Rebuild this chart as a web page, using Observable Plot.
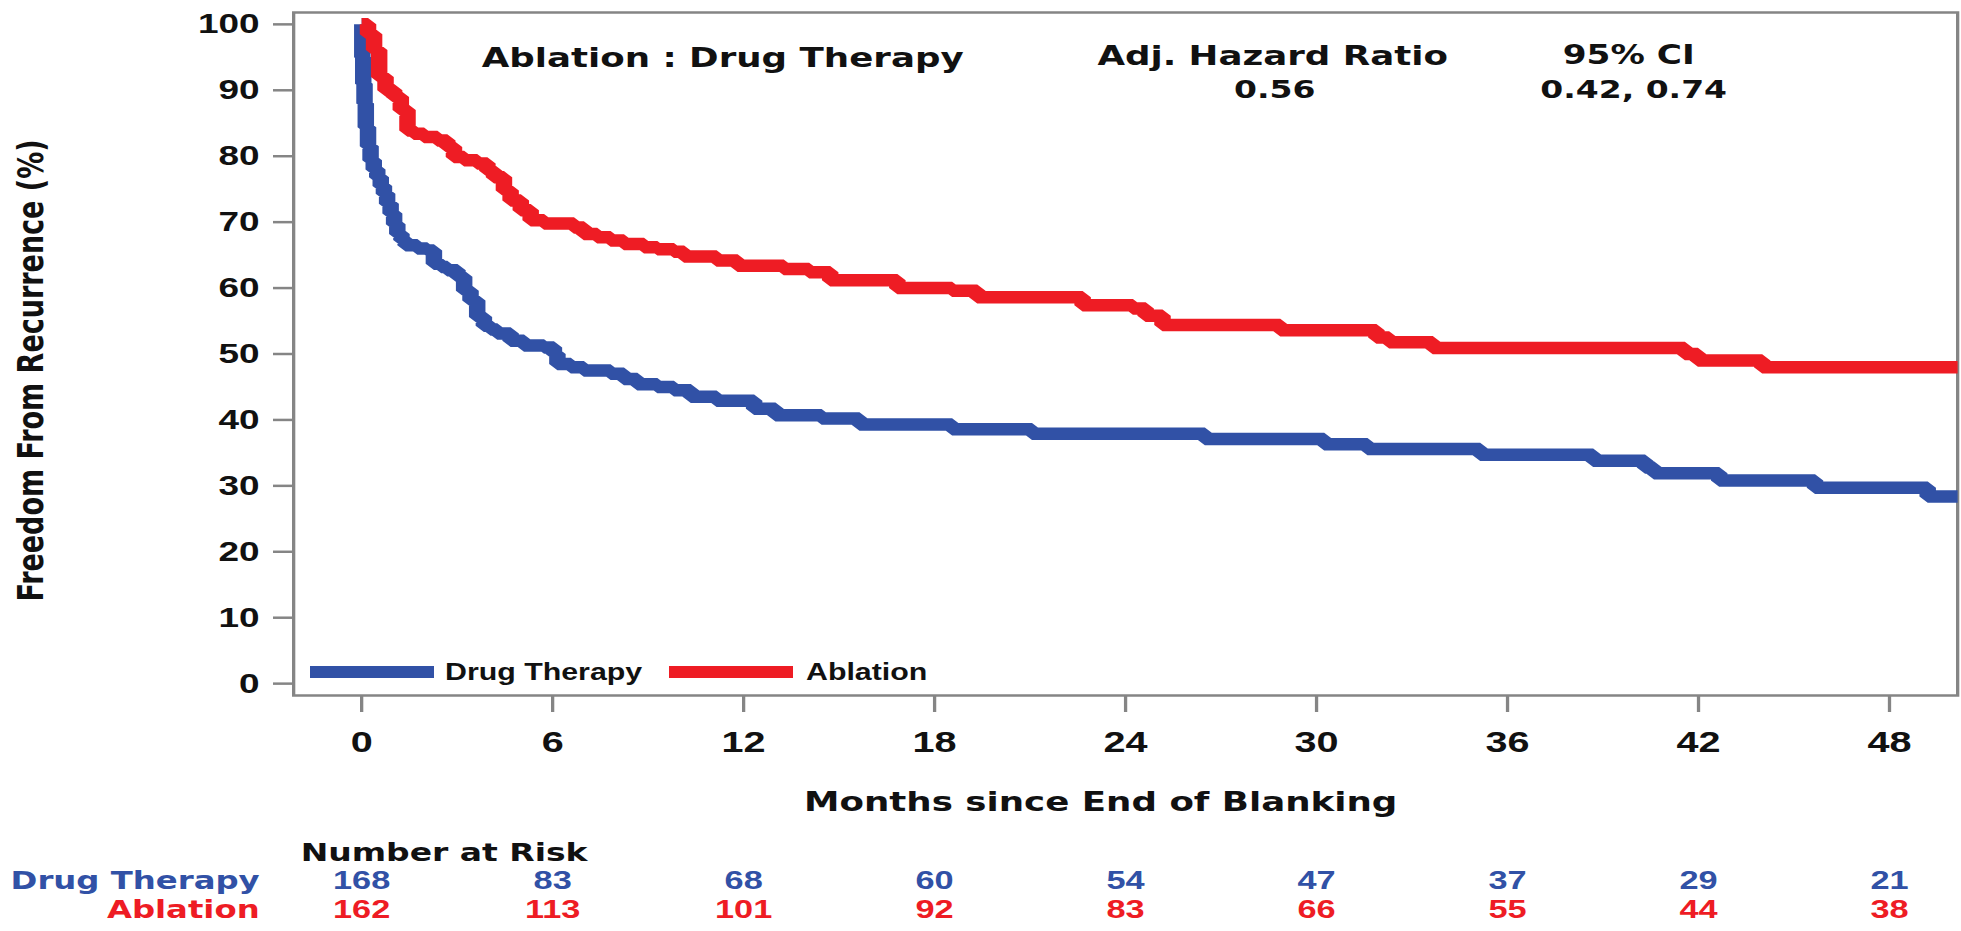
<!DOCTYPE html>
<html>
<head>
<meta charset="utf-8">
<script src="https://cdn.jsdelivr.net/npm/d3@7"></script>
<script src="https://cdn.jsdelivr.net/npm/@observablehq/plot@0.6"></script>
<style>
html, body { margin: 0; padding: 0; background: #fff; overflow: hidden; }
#chart svg { transform-origin: 0 0; display: block; }
</style>
</head>
<body>
<div id="chart"></div>
<script>
// ---------- data ----------
const groups = ["Drug Therapy", "Ablation"];
const groupColors = ["#3151a6", "#ee1c24"];

const drugMonths = [0, 0.02, 0.05, 0.09, 0.13, 0.2, 0.28, 0.38, 0.49, 0.6, 0.70, 0.8, 0.91, 1.02, 1.12, 1.25, 1.38, 1.75, 2.06, 2.27, 2.5, 2.69, 3.01, 3.22, 3.42, 3.63, 3.84, 4.05, 4.26, 4.68, 5.10, 5.73, 6.04, 6.15, 6.57, 6.98, 7.82, 8.24, 8.66, 9.29, 9.81, 10.34, 11.15, 12.33, 13.0, 14.45, 15.64, 18.55, 21.06, 26.49, 30.24, 31.6, 35.14, 38.69, 40.32, 40.6, 42.65, 45.66, 49.2, 50.14];
const drugSurv = [100, 95, 91, 88, 84.4, 81.5, 79.4, 78, 76.8, 75.5, 74.3, 72.8, 71.3, 69.7, 68.2, 67.3, 66.5, 66.0, 65.7, 63.7, 63.2, 62.7, 61.7, 59.6, 58.1, 55.6, 54.3, 53.7, 53.1, 52.0, 51.3, 51.0, 50.0, 48.5, 48.0, 47.5, 47.0, 46.2, 45.4, 45.0, 44.5, 43.5, 42.9, 41.7, 40.7, 40.2, 39.3, 38.6, 37.9, 37.1, 36.3, 35.6, 34.7, 33.8, 32.8, 31.9, 30.8, 29.7, 28.4, 28.4];

const ablMonths = [0, 0.2, 0.39, 0.55, 0.75, 1.02, 1.23, 1.44, 1.64, 1.96, 2.38, 2.69, 2.90, 3.22, 3.63, 3.95, 4.16, 4.47, 4.68, 5.0, 5.31, 5.73, 6.67, 6.98, 7.40, 7.82, 8.24, 8.87, 9.29, 9.81, 10.13, 11.15, 11.81, 13.26, 14.06, 14.72, 16.83, 18.55, 19.34, 22.65, 24.23, 24.63, 25.16, 28.86, 31.88, 32.28, 33.65, 41.57, 41.98, 44.0, 50.14];
const ablSurv = [100, 98.5, 96.1, 92.0, 90.0, 89.0, 87.0, 83.9, 83.4, 82.9, 82.4, 81.4, 79.9, 79.4, 78.9, 77.8, 76.8, 74.8, 73.3, 71.8, 70.3, 69.8, 69.2, 68.2, 67.7, 67.2, 66.7, 66.2, 65.9, 65.5, 64.8, 64.2, 63.4, 62.9, 62.4, 61.2, 60.0, 59.6, 58.6, 57.4, 56.9, 55.8, 54.4, 53.6, 52.5, 51.8, 50.9, 50.0, 49.0, 48.0, 48.0];

const xTicks = [0, 6, 12, 18, 24, 30, 36, 42, 48];
const yTicks = [0, 10, 20, 30, 40, 50, 60, 70, 80, 90, 100];
const riskMonths = [0, 6, 12, 18, 24, 30, 36, 42, 48];
const riskDrug = [168, 83, 68, 60, 54, 47, 37, 29, 21];
const riskAbl = [162, 113, 101, 92, 83, 66, 55, 44, 38];

const xLabel = "Months since End of Blanking";
const yLabel = "Freedom From Recurrence (%)";
const riskTitle = "Number at Risk";
const annComparison = "Ablation : Drug Therapy";
const annHRLabel = "Adj. Hazard Ratio";
const annHRValue = "0.56";
const annCILabel = "95% CI";
const annCIValue = "0.42, 0.74";

// ---------- table for the library ----------
const curveData = [
  ...drugMonths.map((m, i) => ({group: groups[0], month: m, surv: drugSurv[i]})),
  ...ablMonths.map((m, i) => ({group: groups[1], month: m, surv: ablSurv[i]}))
];

// ---------- layout ----------
const W = 1961, H = 931;
const PW = 1486;             // plot width before horizontal stretch
const S = W / PW;            // horizontal stretch
const sx = v => v / S;
const frameL = 293, frameR = 1957, frameT = 12, frameB = 695;

const bold = "bold";
const fWide = "DejaVu Sans";
const fNarrow = "Liberation Sans";

const legendMark = (index, scales, values, dims) => {
  const g = d3.create("svg:g");
  const ml = dims.marginLeft;
  const yC = 672;
  const entries = [
    {label: groups[0], color: groupColors[0], x1: 310, x2: 434, tx: 445},
    {label: groups[1], color: groupColors[1], x1: 669, x2: 793, tx: 806}
  ];
  for (const e of entries) {
    g.append("rect")
      .attr("x", ml + sx(e.x1 - frameL)).attr("width", sx(e.x2 - e.x1))
      .attr("y", yC - 6).attr("height", 12)
      .attr("fill", e.color);
    g.append("text")
      .attr("x", ml + sx(e.tx - frameL)).attr("y", yC)
      .attr("dy", "0.36em")
      .attr("text-anchor", "start")
      .attr("font-family", fNarrow).attr("font-weight", bold)
      .attr("font-size", 23).attr("fill", "#111")
      .text(e.label);
  }
  return g.node();
};

const txt = (s, o) => Plot.text([s], {text: d => d, fontWeight: bold, fill: "#111", textAnchor: "middle", ...o});

const chart = Plot.plot({
  width: PW,
  height: H,
  marginLeft: sx(frameL),
  marginRight: sx(W - frameR),
  marginTop: frameT,
  marginBottom: H - frameB,
  style: {fontFamily: fWide, background: "white", overflow: "visible"},
  x: {domain: [-(361 - frameL) / 31.83, (frameR - 361) / 31.83]},
  y: {domain: [-1.8, 101.8]},
  color: {domain: groups, range: groupColors},
  marks: [
    Plot.frame({stroke: "#858585", strokeWidth: 2.5}),
    Plot.axisY(yTicks, {anchor: "left", tickSize: sx(20), tickPadding: sx(14),
      fontSize: 28, fontFamily: fNarrow, fontWeight: bold, stroke: "#858585", strokeWidth: 2.5,
      color: "#111", label: null}),
    Plot.axisX(xTicks, {anchor: "bottom", tickSize: 17, tickPadding: 18,
      fontSize: 30, fontFamily: fNarrow, fontWeight: bold, stroke: "#858585", strokeWidth: 2.5,
      color: "#111", label: null}),
    Plot.line(curveData, {x: "month", y: "surv", z: "group", stroke: "group",
      curve: "step-after", strokeWidth: 12.5, strokeLinejoin: "miter", strokeLinecap: "butt"}),
    legendMark,
    // annotations
    txt(annComparison, {frameAnchor: "top-left", dx: sx(722 - frameL), dy: 47 - frameT, fontSize: 27, fontFamily: fWide}),
    txt(annHRLabel, {frameAnchor: "top-left", dx: sx(1272 - frameL), dy: 45 - frameT, fontSize: 27, fontFamily: fWide}),
    txt(annHRValue, {frameAnchor: "top-left", dx: sx(1274 - frameL), dy: 80 - frameT, fontSize: 25, fontFamily: fWide}),
    txt(annCILabel, {frameAnchor: "top-left", dx: sx(1628 - frameL), dy: 45 - frameT, fontSize: 26, fontFamily: fWide}),
    txt(annCIValue, {frameAnchor: "top-left", dx: sx(1633 - frameL), dy: 80 - frameT, fontSize: 25, fontFamily: fWide}),
    // axis titles
    txt(yLabel, {frameAnchor: "left", dx: sx(31 - frameL), dy: 370 - (frameT + frameB) / 2, rotate: -90, fontSize: 27, fontFamily: fWide}),
    txt(xLabel, {frameAnchor: "bottom-left", dx: sx(1100 - frameL), dy: 810 - frameB, fontSize: 27, fontFamily: fWide}),
    // number at risk
    txt(riskTitle, {frameAnchor: "bottom-left", dx: sx(300 - frameL), dy: 860 - frameB, textAnchor: "start", fontSize: 25, fontFamily: fWide}),
    txt(groups[0], {frameAnchor: "bottom-left", dx: sx(259 - frameL), dy: 888 - frameB, textAnchor: "end", fontSize: 24.5, fontFamily: fWide, fill: groupColors[0]}),
    txt(groups[1], {frameAnchor: "bottom-left", dx: sx(259 - frameL), dy: 917 - frameB, textAnchor: "end", fontSize: 24.5, fontFamily: fWide, fill: groupColors[1]}),
    Plot.text(riskMonths, {x: riskMonths, text: riskDrug, frameAnchor: "bottom", dy: 888 - frameB,
      fontSize: 26, fontFamily: fNarrow, fontWeight: bold, fill: groupColors[0]}),
    Plot.text(riskMonths, {x: riskMonths, text: riskAbl, frameAnchor: "bottom", dy: 917 - frameB,
      fontSize: 26, fontFamily: fNarrow, fontWeight: bold, fill: groupColors[1]})
  ]
});
chart.style.transform = `scaleX(${S})`;
chart.style.maxWidth = "none";
document.getElementById("chart").appendChild(chart);
</script>
</body>
</html>
